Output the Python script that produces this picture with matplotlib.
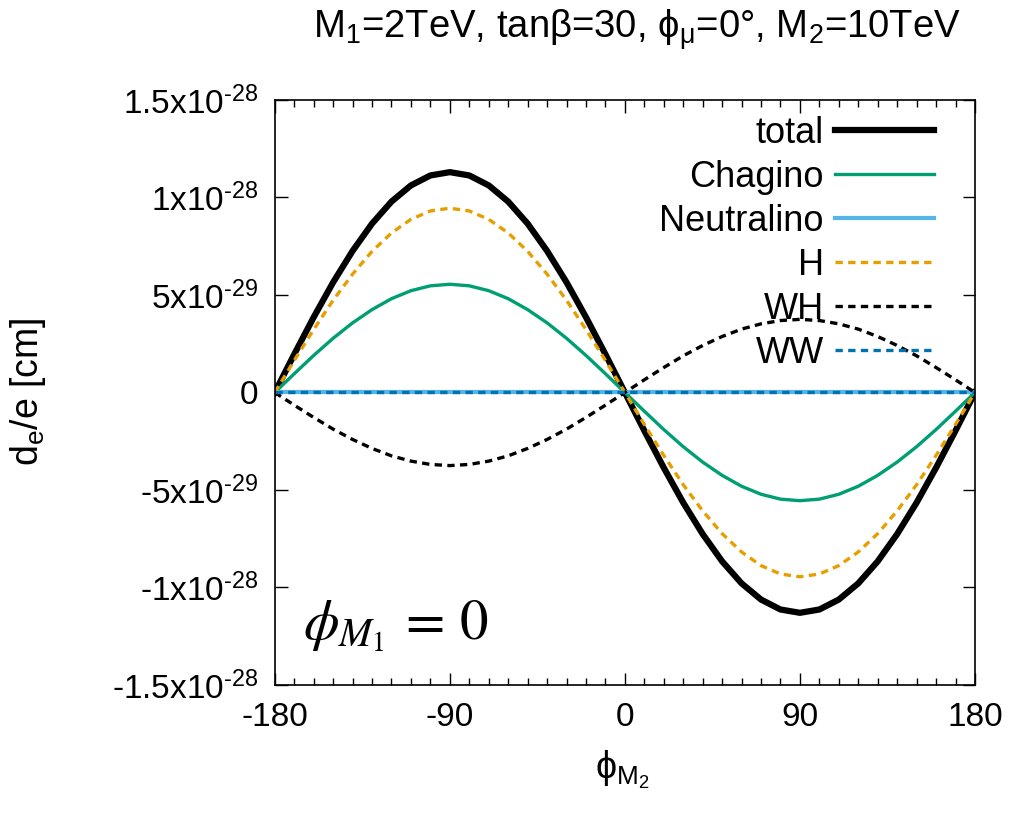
import matplotlib
matplotlib.use("Agg")
import matplotlib.pyplot as plt
from matplotlib.ticker import MultipleLocator

plt.rcParams['font.family'] = ['Liberation Sans', 'DejaVu Sans']
plt.rcParams['mathtext.fontset'] = 'custom'
plt.rcParams['mathtext.rm'] = 'Liberation Sans'
plt.rcParams['mathtext.it'] = 'Liberation Sans:italic'
plt.rcParams['axes.unicode_minus'] = False

# phase of M2 in degrees
phi = [-180, -170, -160, -150, -140, -130, -120, -110, -100, -90,
       -80, -70, -60, -50, -40, -30, -20, -10, 0,
       10, 20, 30, 40, 50, 60, 70, 80, 90,
       100, 110, 120, 130, 140, 150, 160, 170, 180]

# d_e/e in units of 1e-29 cm
total = [0, 1.96, 3.86, 5.65, 7.26, 8.66, 9.79, 10.62, 11.13, 11.3,
         11.13, 10.62, 9.79, 8.66, 7.26, 5.65, 3.86, 1.96, 0,
         -1.96, -3.86, -5.65, -7.26, -8.66, -9.79, -10.62, -11.13, -11.3,
         -11.13, -10.62, -9.79, -8.66, -7.26, -5.65, -3.86, -1.96, 0]
chargino = [0, 0.96, 1.90, 2.78, 3.57, 4.25, 4.81, 5.22, 5.47, 5.55,
            5.47, 5.22, 4.81, 4.25, 3.57, 2.78, 1.90, 0.96, 0,
            -0.96, -1.90, -2.78, -3.57, -4.25, -4.81, -5.22, -5.47, -5.55,
            -5.47, -5.22, -4.81, -4.25, -3.57, -2.78, -1.90, -0.96, 0]
neutralino = [0.0] * 37
higgs = [0, 1.64, 3.23, 4.73, 6.07, 7.24, 8.18, 8.88, 9.31, 9.45,
         9.31, 8.88, 8.18, 7.24, 6.07, 4.73, 3.23, 1.64, 0,
         -1.64, -3.23, -4.73, -6.07, -7.24, -8.18, -8.88, -9.31, -9.45,
         -9.31, -8.88, -8.18, -7.24, -6.07, -4.73, -3.23, -1.64, 0]
wh = [0, -0.65, -1.28, -1.88, -2.41, -2.87, -3.25, -3.52, -3.69, -3.75,
      -3.69, -3.52, -3.25, -2.87, -2.41, -1.88, -1.28, -0.65, 0,
      0.65, 1.28, 1.88, 2.41, 2.87, 3.25, 3.52, 3.69, 3.75,
      3.69, 3.52, 3.25, 2.87, 2.41, 1.88, 1.28, 0.65, 0]
ww = [0.0] * 37

yticks = [-1.5e-28, -1e-28, -5e-29, 0, 5e-29, 1e-28, 1.5e-28]
yticklabels = [r'-1.5x10$^{\text{-28}}$', r'-1x10$^{\text{-28}}$',
               r'-5x10$^{\text{-29}}$', '0', r'5x10$^{\text{-29}}$',
               r'1x10$^{\text{-28}}$', r'1.5x10$^{\text{-28}}$']


def scale(vals):
    return [v * 1e-29 for v in vals]


fig = plt.figure(figsize=(10.14, 8.21), dpi=100)
ax = fig.add_axes([0.271, 0.1657, 0.6905, 0.7125])

dash = (0, (2.2, 1.6))
ax.plot(phi, scale(total), color='black', lw=4.5, label='total')
ax.plot(phi, scale(chargino), color='#009e73', lw=2.4, label='Chagino')
ax.plot(phi, scale(neutralino), color='#56b4e9', lw=3.0, label='Neutralino')
ax.plot(phi, scale(higgs), color='#e69f00', lw=2.4, ls=dash, label='H')
ax.plot(phi, scale(wh), color='black', lw=2.4, ls=dash, label='WH')
ax.plot(phi, scale(ww), color='#0072b2', lw=2.4, ls=dash, label='WW')

ax.set_xlim(-180, 180)
ax.set_ylim(-1.5e-28, 1.5e-28)
ax.set_xticks([-180, -90, 0, 90, 180])
ax.xaxis.set_minor_locator(MultipleLocator(10))
ax.set_yticks(yticks)
ax.set_yticklabels(yticklabels)
ax.tick_params(which='both', direction='in', top=True, right=True,
               labelsize=24, width=1.0)
ax.tick_params(which='major', length=9, pad=12)
ax.tick_params(which='minor', length=5)
for s in ax.spines.values():
    s.set_linewidth(1.2)

fig.text(622 / 1014, 1 - 770 / 821, 'ϕ$_{\\mathrm{M_2}}$', fontsize=27,
         ha='center', va='center')
fig.text(28 / 1014, 1 - 392 / 821, 'd$_{\\mathrm{e}}$/e [cm]', fontsize=27,
         ha='center', va='center', rotation=90)
fig.text(637 / 1014, 1 - 30 / 821,
         'M$_1$=2TeV, tanβ=30, ϕ$_{\\mathrm{μ}}$=0°, M$_2$=10TeV',
         fontsize=27.5, ha='center', va='center')

ax.text(0.04, 0.1, r'$\phi_{M_1}\, =\, 0$', transform=ax.transAxes,
        fontsize=41, math_fontfamily='stix', va='center')

ax.legend(loc='upper right', frameon=False, markerfirst=False,
          fontsize=26, handlelength=2.75, handletextpad=0.3,
          labelspacing=0.25, borderaxespad=0.0,
          bbox_to_anchor=(0.962, 0.998))

fig.savefig('out.png', dpi=100)
